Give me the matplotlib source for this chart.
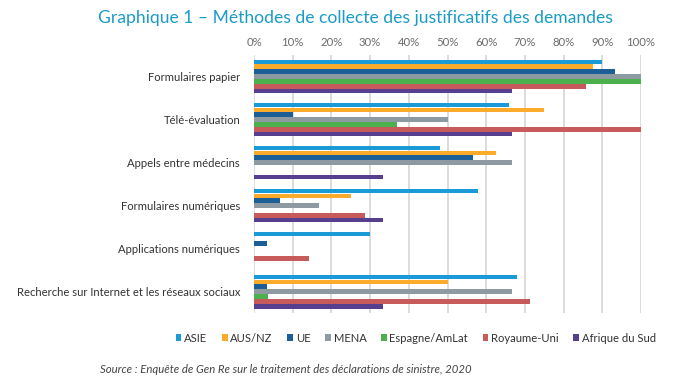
import numpy as np
import matplotlib.pyplot as plt

# Categories and series (share of respondents, %)
categories = [
    "Formulaires papier",
    "Télé-évaluation",
    "Appels entre médecins",
    "Formulaires numériques",
    "Applications numériques",
    "Recherche sur Internet et les réseaux sociaux",
]
series_names = ["ASIE", "AUS/NZ", "UE", "MENA", "Espagne/AmLat", "Royaume-Uni", "Afrique du Sud"]
asie = [90, 66, 48, 58, 30, 68]
aus_nz = [87.5, 75, 62.5, 25, 0, 50]
ue = [93.3, 10, 56.7, 6.7, 3.3, 3.3]
mena = [100, 50, 66.7, 16.7, 0, 66.7]
espagne_amlat = [100, 37, 0, 0, 0, 3.7]
royaume_uni = [85.7, 100, 0, 28.6, 14.3, 71.4]
afrique_du_sud = [66.7, 66.7, 33.3, 33.3, 0, 33.3]
series_values = [asie, aus_nz, ue, mena, espagne_amlat, royaume_uni, afrique_du_sud]
colors = ["#1a9ad6", "#fbab2c", "#1c5e96", "#8e9aa2", "#4cb14c", "#c75b5b", "#553f8e"]
x_ticks = np.arange(0, 101, 10)

plt.rcParams["font.family"] = ["Lato", "DejaVu Sans"]

fig = plt.figure(figsize=(6.74, 3.9), dpi=100)
ax = fig.add_axes([0.377, 0.197, 0.574, 0.662])

n = len(series_names)
bar_h = 0.79 / n
y_base = np.arange(len(categories))
for i, (name, vals, col) in enumerate(zip(series_names, series_values, colors)):
    y = y_base - 0.395 + bar_h * (i + 0.5)
    ax.barh(y, vals, height=bar_h * 0.95, color=col, label=name, zorder=3)

ax.set_ylim(len(categories) - 0.5, -0.5)
ax.set_xlim(0, 100)
ax.set_xticks(x_ticks)
ax.set_xticklabels([f"{t}%" for t in x_ticks], color="#6b6b6b", fontsize=8.2)
ax.xaxis.tick_top()
ax.tick_params(axis="x", length=0, pad=5)
ax.set_yticks(y_base)
ax.set_yticklabels(categories, color="#333333", fontsize=8.1)
ax.tick_params(axis="y", length=0, pad=10)
ax.grid(axis="x", color="#d9d9d9", linewidth=1.3, zorder=0)
for s in ax.spines.values():
    s.set_visible(False)

fig.text(0.527, 0.953, "Graphique 1 – Méthodes de collecte des justificatifs des demandes",
         ha="center", va="center", color="#1a9bc8", fontsize=12.6)

fig.legend(loc="center", bbox_to_anchor=(0.617, 0.133), ncol=7, frameon=False,
           fontsize=8.1, handlelength=0.5, handleheight=0.5, handletextpad=0.25,
           columnspacing=1.3, labelcolor="#333333")

fig.text(0.148, 0.052, "Source : Enquête de Gen Re sur le traitement des déclarations de sinistre, 2020",
         ha="left", va="center", color="#444444", fontsize=8.2, style="italic")

fig.savefig("out.png", dpi=100)
